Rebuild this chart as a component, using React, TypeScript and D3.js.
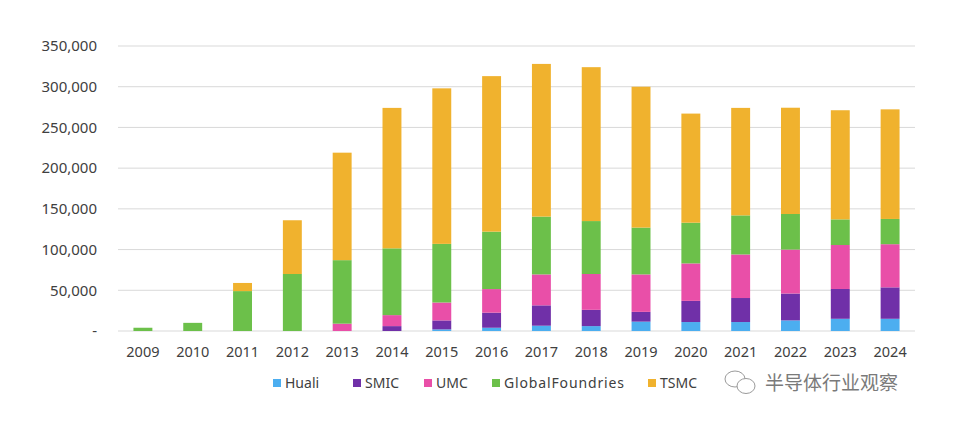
import React from 'react';
import * as d3 from 'd3';

const years = ['2009', '2010', '2011', '2012', '2013', '2014', '2015', '2016',
  '2017', '2018', '2019', '2020', '2021', '2022', '2023', '2024'];

const huali = [0, 0, 0, 0, 0, 0, 2000, 4000, 6500, 6000, 11500, 11000, 11000, 13000, 15000, 15000];
const smic = [0, 0, 0, 0, 0, 6000, 11000, 18500, 25000, 20000, 12000, 26000, 29500, 33000, 36600, 38600];
const umc = [0, 0, 0, 0, 9000, 13500, 22000, 29000, 38000, 44000, 46000, 46000, 53500, 54000, 54000, 53000];
const globalFoundries = [4000, 10000, 49000, 70000, 78000, 82000, 72000, 70500, 71000, 65000, 57500, 50000, 48000, 43700, 31500, 31000];
const tsmc = [0, 0, 10000, 66000, 132000, 172500, 191000, 191000, 187500, 189000, 173000, 134000, 132000, 130500, 134000, 134600];

const seriesNames = ['Huali', 'SMIC', 'UMC', 'GlobalFoundries', 'TSMC'];
const seriesValues = [huali, smic, umc, globalFoundries, tsmc];
const seriesColors = ['#4caef0', '#7030a8', '#e94fa8', '#6cc04a', '#f0b22e'];

const yTicks = [0, 50000, 100000, 150000, 200000, 250000, 300000, 350000];

const W = 956;
const H = 427;
const margin = { top: 46, right: 41, bottom: 96, left: 118 };

export default function App() {
  const x = d3.scaleBand()
    .domain(years)
    .range([margin.left, W - margin.right])
    .paddingInner(0.62)
    .paddingOuter(0.31);

  const y = d3.scaleLinear()
    .domain([0, 350000])
    .range([H - margin.bottom, margin.top]);

  const table = years.map((yr, i) => {
    const row: any = { year: yr };
    seriesNames.forEach((n, j) => { row[n] = seriesValues[j][i]; });
    return row;
  });
  const stacked = d3.stack<any>().keys(seriesNames)(table);

  const fmt = d3.format(',');
  const font = '"Noto Sans", "Open Sans", sans-serif';

  // legend swatch positions
  const legendX = [273, 353, 424, 492, 648];

  return (
    <svg width={W} height={H} style={{ position: 'absolute', left: 0, top: 0, background: '#fff' }}
      fontFamily={font}>
      {yTicks.map(t => (
        <g key={t}>
          <line x1={margin.left} x2={W - margin.right} y1={y(t)} y2={y(t)}
            stroke="#d9d9d9" strokeWidth={1} />
          <text x={97} y={y(t)} dy="0.35em" textAnchor="end" fontSize={15} fill="#404040">
            {t === 0 ? '-' : fmt(t)}
          </text>
        </g>
      ))}
      {stacked.map((s, j) => (
        <g key={s.key} fill={seriesColors[j]}>
          {s.map((d, i) => (
            d[1] - d[0] > 0 ? (
              <rect key={i} x={x(years[i])} width={x.bandwidth()}
                y={y(d[1])} height={y(d[0]) - y(d[1])} />
            ) : null
          ))}
        </g>
      ))}
      {years.map(yr => (
        <text key={yr} x={x(yr)! + x.bandwidth() / 2} y={357} textAnchor="middle"
          fontSize={14.5} fill="#404040">{yr}</text>
      ))}
      {seriesNames.map((n, j) => (
        <g key={n} transform={`translate(${legendX[j]},383)`}>
          <rect x={0} y={-4} width={8} height={8} fill={seriesColors[j]} />
          <text x={12} y={0} dy="0.35em" fontSize={14} fill="#404040"
            textLength={n === 'GlobalFoundries' ? 120 : undefined}>{n}</text>
        </g>
      ))}
      <g transform="translate(725,383)" fill="none" stroke="#9a9a9a" strokeWidth={1}>
        <ellipse cx={10} cy={-4} rx={10} ry={8} />
        <ellipse cx={21} cy={3} rx={9} ry={7.5} fill="#fff" />
      </g>
      <text x={765} y={383} dy="0.35em" fontSize={19} fill="#7a7a7a"
        fontFamily='"Noto Sans CJK SC", sans-serif'>半导体行业观察</text>
    </svg>
  );
}
